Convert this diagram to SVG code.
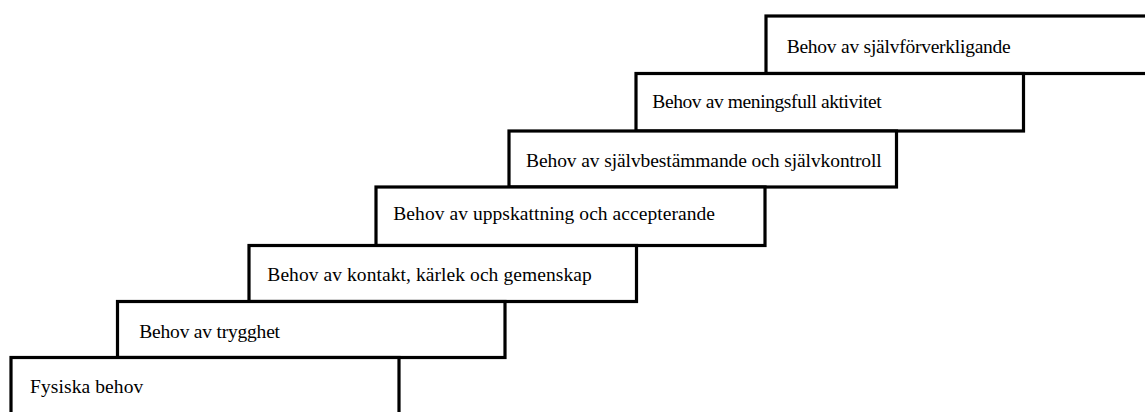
<svg xmlns="http://www.w3.org/2000/svg" width="1145" height="412" viewBox="0 0 1145 412">
<style>
.step{fill:#fff;stroke:#000;stroke-width:3.2}
.lbl{font-family:"Liberation Serif","Times New Roman",serif;font-size:19.5px;fill:#000}
</style>
<rect width="1145" height="412" fill="#fff"/>
<g id="step7"><rect class="step" x="766" y="16" width="400" height="57.5"/><text class="lbl" x="786.7" y="52.7" textLength="224">Behov av självförverkligande</text></g>
<g id="step6"><rect class="step" x="636" y="73.5" width="387.5" height="57.5"/><text class="lbl" x="652.3" y="108.3" textLength="229.4">Behov av meningsfull aktivitet</text></g>
<g id="step5"><rect class="step" x="509" y="131" width="387.5" height="56"/><text class="lbl" x="526" y="167.3" textLength="355.7">Behov av självbestämmande och självkontroll</text></g>
<g id="step4"><rect class="step" x="376" y="187" width="389" height="58.5"/><text class="lbl" x="393.3" y="220.3" textLength="321.7">Behov av uppskattning och accepterande</text></g>
<g id="step3"><rect class="step" x="249" y="245.5" width="387.5" height="56"/><text class="lbl" x="267.3" y="281" textLength="324.4">Behov av kontakt, kärlek och gemenskap</text></g>
<g id="step2"><rect class="step" x="117.5" y="301.5" width="387.5" height="56"/><text class="lbl" x="139.3" y="338.3" textLength="140.7">Behov av trygghet</text></g>
<g id="step1"><rect class="step" x="11" y="357.5" width="388" height="70"/><text class="lbl" x="30" y="392.7" textLength="113.3">Fysiska behov</text></g>
<g id="connectors"></g>
</svg>
